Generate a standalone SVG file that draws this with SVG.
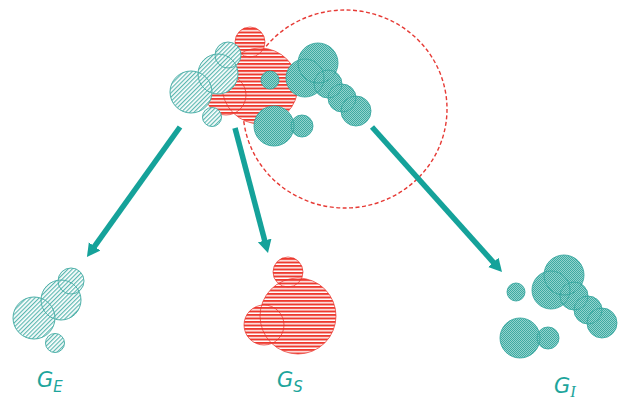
<svg xmlns="http://www.w3.org/2000/svg" xmlns:xlink="http://www.w3.org/1999/xlink" width="618" height="409" viewBox="0 0 618 409">
  <style>
    .hatch-fill { fill: url(#hatch); stroke: none; }
    .hatch-line { fill: none; stroke: #4fb1aa; stroke-width: 1; }
    .stripe-fill { fill: url(#stripes); stroke: none; }
    .stripe-line { fill: none; stroke: #e8322a; stroke-width: 1; stroke-opacity: 0.7; }
    .dot-fill { fill: url(#dots); stroke: none; }
    .dot-line { fill: none; stroke: #35a59d; stroke-width: 1; stroke-opacity: 0.85; }
    .boundary { fill: none; stroke: #e63a35; stroke-width: 1.4; stroke-dasharray: 4 2.5; }
    .arrow { stroke: #15a29a; stroke-width: 5.5; fill: none; marker-end: url(#head); }
    .label { font-family: "DejaVu Sans", "Liberation Sans", sans-serif; font-style: italic; fill: #1da59c; font-size: 21px; }
    .sub { font-size: 15px; }
  </style>
  <defs>
    <pattern id="hatch" patternUnits="userSpaceOnUse" width="3" height="3" patternTransform="rotate(45)">
      <rect width="3" height="3" fill="#ffffff"/>
      <rect width="1.2" height="3" fill="#5cb8b1"/>
    </pattern>
    <pattern id="stripes" patternUnits="userSpaceOnUse" width="4" height="3.5">
      <rect width="4" height="3.5" fill="#ffffff"/>
      <rect width="4" height="2" fill="#ee3a2f"/>
    </pattern>
    <pattern id="dots" patternUnits="userSpaceOnUse" width="2" height="2">
      <rect width="2" height="2" fill="#92d3cd"/>
      <rect width="1" height="1" fill="#3eaaa2"/>
      <rect x="1" y="1" width="1" height="1" fill="#3eaaa2"/>
    </pattern>
    <marker id="head" markerUnits="userSpaceOnUse" markerWidth="16" markerHeight="16" refX="4" refY="7" orient="auto">
      <path d="M0,0 L13,7 L0,14 z" fill="#15a29a"/>
    </marker>

    <!-- hatched cluster, drawn at its place in the source cluster -->
    <g id="shapeE">
      <circle class="hatch-fill" cx="191" cy="92" r="21"/>
      <circle class="hatch-fill" cx="218" cy="74" r="20"/>
      <circle class="hatch-fill" cx="228" cy="55" r="13"/>
      <circle class="hatch-fill" cx="212" cy="117" r="9.5"/>
      <circle class="hatch-line" cx="191" cy="92" r="21"/>
      <circle class="hatch-line" cx="218" cy="74" r="20"/>
      <circle class="hatch-line" cx="228" cy="55" r="13"/>
      <circle class="hatch-line" cx="212" cy="117" r="9.5"/>
    </g>
    <!-- striped cluster -->
    <g id="shapeS">
      <circle class="stripe-fill" cx="260" cy="86" r="38"/>
      <circle class="stripe-fill" cx="226" cy="95" r="20"/>
      <circle class="stripe-fill" cx="250" cy="42" r="15"/>
      <circle class="stripe-line" cx="260" cy="86" r="38"/>
      <circle class="stripe-line" cx="226" cy="95" r="20"/>
      <circle class="stripe-line" cx="250" cy="42" r="15"/>
    </g>
    <!-- dotted cluster -->
    <g id="shapeI">
      <circle class="dot-fill" cx="318" cy="63" r="20"/>
      <circle class="dot-fill" cx="305" cy="78" r="19"/>
      <circle class="dot-fill" cx="328" cy="84" r="14"/>
      <circle class="dot-fill" cx="342" cy="98" r="14"/>
      <circle class="dot-fill" cx="356" cy="111" r="15"/>
      <circle class="dot-fill" cx="274" cy="126" r="20"/>
      <circle class="dot-fill" cx="302" cy="126" r="11"/>
      <circle class="dot-fill" cx="270" cy="80" r="9"/>
      <circle class="dot-line" cx="318" cy="63" r="20"/>
      <circle class="dot-line" cx="305" cy="78" r="19"/>
      <circle class="dot-line" cx="328" cy="84" r="14"/>
      <circle class="dot-line" cx="342" cy="98" r="14"/>
      <circle class="dot-line" cx="356" cy="111" r="15"/>
      <circle class="dot-line" cx="274" cy="126" r="20"/>
      <circle class="dot-line" cx="302" cy="126" r="11"/>
      <circle class="dot-line" cx="270" cy="80" r="9"/>
    </g>
  </defs>

  <rect width="618" height="409" fill="#ffffff"/>

  <!-- dashed boundary around the dotted part -->
  <ellipse class="boundary" cx="345" cy="109" rx="102" ry="99"/>

  <!-- source cluster: striped, hatched and dotted parts together -->
  <g id="source">
    <use xlink:href="#shapeS"/>
    <use xlink:href="#shapeE"/>
    <use xlink:href="#shapeI"/>
  </g>

  <g id="connectors">
    <line class="arrow" x1="180" y1="127" x2="92.2" y2="249.7"/>
    <line class="arrow" x1="235" y1="128" x2="265.7" y2="244.3"/>
    <line class="arrow" x1="372" y1="127" x2="496" y2="265.3"/>
  </g>

  <g id="GE">
    <use xlink:href="#shapeE" transform="translate(-157,226)"/>
    <text class="label" x="37" y="387">G<tspan class="sub" dy="5">E</tspan></text>
  </g>

  <g id="GS">
    <use xlink:href="#shapeS" transform="translate(38,230)"/>
    <text class="label" x="277" y="387">G<tspan class="sub" dy="5">S</tspan></text>
  </g>

  <g id="GI">
    <use xlink:href="#shapeI" transform="translate(246,212)"/>
    <text class="label" x="554" y="393">G<tspan class="sub" dy="4" style="font-family:'Liberation Serif',serif;font-size:16px">I</tspan></text>
  </g>
</svg>
